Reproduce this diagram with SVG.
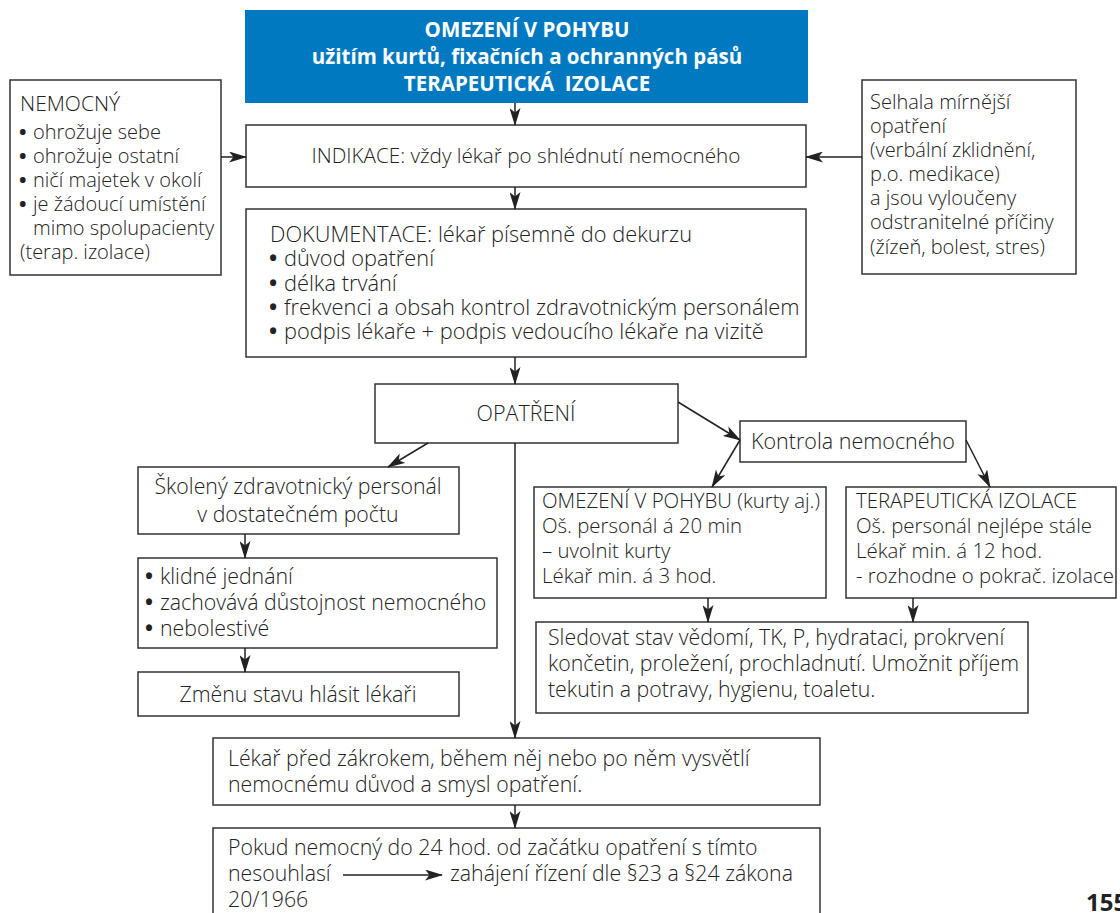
<svg xmlns="http://www.w3.org/2000/svg" width="1120" height="913" viewBox="0 0 1120 913">
  <style>
    text { font-family: "Open Sans", "Noto Sans", "Liberation Sans", sans-serif; font-size: 21.3px; font-weight: 300; fill: #222; }
    .box { fill: #fff; stroke: #333; stroke-width: 1.5; }
    .head { fill: #0079c1; }
    .title { font-weight: bold; font-size: 20.5px; fill: #fff; }
    .mid { text-anchor: middle; }
    .side text { font-size: 20px; }
    .ind text { font-size: 20.7px; }
    .doc text { font-size: 21.8px; }
    .ctl text { font-size: 20.4px; }
    .lg text { font-size: 21.5px; }
    .b { font-weight: bold; }
    .conn line { stroke: #222; stroke-width: 1.5; }
    .page { font-weight: bold; font-size: 24px; }
  </style>
  <defs>
    <marker id="arr" viewBox="0 0 18 11" markerWidth="18" markerHeight="11" refX="17" refY="5.5" orient="auto" markerUnits="userSpaceOnUse">
      <path d="M0,0 L18,5.5 L0,11 L4.5,5.5 z" fill="#222"/>
    </marker>
  </defs>

  <!-- heading -->
  <g id="head">
    <rect class="head" x="245" y="10" width="563" height="93"/>
    <text class="title mid" x="527" y="37">OMEZENÍ V POHYBU</text>
    <text class="title mid" x="527" y="64">užitím kurtů, fixačních a ochranných pásů</text>
    <text class="title mid" x="527" y="91" xml:space="preserve">TERAPEUTICKÁ  IZOLACE</text>
  </g>

  <g id="nemocny" class="side">
    <rect class="box" x="10" y="80" width="211" height="195"/>
    <text x="20" y="111" style="font-size:21px">NEMOCNÝ</text>
    <text class="b" x="19" y="139">•</text><text x="33" y="139">ohrožuje sebe</text>
    <text class="b" x="19" y="163">•</text><text x="33" y="163">ohrožuje ostatní</text>
    <text class="b" x="19" y="187">•</text><text x="33" y="187">ničí majetek v okolí</text>
    <text class="b" x="19" y="211">•</text><text x="33" y="211">je žádoucí umístění</text>
    <text x="33" y="235">mimo spolupacienty</text>
    <text x="20" y="259">(terap. izolace)</text>
  </g>

  <g id="selhala" class="side">
    <rect class="box" x="862" y="80" width="214" height="194"/>
    <text x="870" y="109">Selhala mírnější</text>
    <text x="870" y="133">opatření</text>
    <text x="870" y="157">(verbální zklidnění,</text>
    <text x="870" y="181">p.o. medikace)</text>
    <text x="870" y="205">a jsou vyloučeny</text>
    <text x="870" y="229">odstranitelné příčiny</text>
    <text x="870" y="254">(žízeň, bolest, stres)</text>
  </g>

  <g id="indikace" class="ind">
    <rect class="box" x="246" y="125" width="560" height="62"/>
    <text class="mid" x="526" y="163">INDIKACE: vždy lékař po shlédnutí nemocného</text>
  </g>

  <g id="dokumentace" class="doc">
    <rect class="box" x="246" y="209" width="560" height="148"/>
    <text x="270" y="242">DOKUMENTACE: lékař písemně do dekurzu</text>
    <text class="b" x="269" y="266">•</text><text x="284" y="266">důvod opatření</text>
    <text class="b" x="269" y="291">•</text><text x="284" y="291">délka trvání</text>
    <text class="b" x="269" y="315">•</text><text x="284" y="315">frekvenci a obsah kontrol zdravotnickým personálem</text>
    <text class="b" x="269" y="339">•</text><text x="284" y="339">podpis lékaře + podpis vedoucího lékaře na vizitě</text>
  </g>

  <g id="opatreni" class="lg">
    <rect class="box" x="375" y="384" width="303" height="59"/>
    <text class="mid" x="526" y="421">OPATŘENÍ</text>
  </g>

  <g id="kontrola" class="lg">
    <rect class="box" x="740" y="421" width="226" height="41"/>
    <text x="751" y="449">Kontrola nemocného</text>
  </g>

  <g id="skoleny">
    <rect class="box" x="138" y="467" width="321" height="67"/>
    <text class="mid" x="298" y="494">Školený zdravotnický personál</text>
    <text class="mid" x="298" y="522">v dostatečném počtu</text>
  </g>

  <g id="jednani">
    <rect class="box" x="138" y="558" width="359" height="90"/>
    <text class="b" x="145" y="584">•</text><text x="160" y="584">klidné jednání</text>
    <text class="b" x="145" y="610">•</text><text x="160" y="610">zachovává důstojnost nemocného</text>
    <text class="b" x="145" y="636">•</text><text x="160" y="636">nebolestivé</text>
  </g>

  <g id="zmena">
    <rect class="box" x="138" y="672" width="321" height="44"/>
    <text class="mid" x="298" y="702">Změnu stavu hlásit lékaři</text>
  </g>

  <g id="omezeni" class="ctl">
    <rect class="box" x="534" y="487" width="292" height="111"/>
    <text x="542" y="508">OMEZENÍ V POHYBU (kurty aj.)</text>
    <text x="542" y="533">Oš. personál á 20 min</text>
    <text x="542" y="558">– uvolnit kurty</text>
    <text x="542" y="583">Lékař min. á 3 hod.</text>
  </g>

  <g id="izolace" class="ctl">
    <rect class="box" x="846" y="487" width="270" height="111"/>
    <text x="856" y="508">TERAPEUTICKÁ IZOLACE</text>
    <text x="856" y="533">Oš. personál nejlépe stále</text>
    <text x="856" y="558">Lékař min. á 12 hod.</text>
    <text x="856" y="583">- rozhodne o pokrač. izolace</text>
  </g>

  <g id="sledovat">
    <rect class="box" x="536" y="622" width="492" height="91"/>
    <text x="548" y="645">Sledovat stav vědomí, TK, P, hydrataci, prokrvení</text>
    <text x="548" y="671">končetin, proležení, prochladnutí. Umožnit příjem</text>
    <text x="548" y="697">tekutin a potravy, hygienu, toaletu.</text>
  </g>

  <g id="vysvetleni">
    <rect class="box" x="213" y="738" width="607" height="67"/>
    <text x="228" y="766">Lékař před zákrokem, během něj nebo po něm vysvětlí</text>
    <text x="228" y="792">nemocnému důvod a smysl opatření.</text>
  </g>

  <g id="nesouhlas">
    <rect class="box" x="213" y="828" width="607" height="95"/>
    <text x="228" y="855">Pokud nemocný do 24 hod. od začátku opatření s tímto</text>
    <text x="228" y="881">nesouhlasí</text>
    <text x="450" y="881">zahájení řízení dle §23 a §24 zákona</text>
    <text x="228" y="907">20/1966</text>
  </g>

  <text class="page" x="1086" y="911">155</text>

  <g class="conn">
    <line x1="515" y1="103" x2="515" y2="125" marker-end="url(#arr)"/>
    <line x1="515" y1="187" x2="515" y2="209" marker-end="url(#arr)"/>
    <line x1="515" y1="357" x2="515" y2="384" marker-end="url(#arr)"/>
    <line x1="221" y1="157" x2="246" y2="157" marker-end="url(#arr)"/>
    <line x1="862" y1="157" x2="806" y2="157" marker-end="url(#arr)"/>
    <line x1="678" y1="402" x2="740" y2="440" marker-end="url(#arr)"/>
    <line x1="740" y1="440" x2="712" y2="487" marker-end="url(#arr)"/>
    <line x1="966" y1="440" x2="990" y2="487" marker-end="url(#arr)"/>
    <line x1="428" y1="443" x2="388" y2="467" marker-end="url(#arr)"/>
    <line x1="245" y1="534" x2="245" y2="558" marker-end="url(#arr)"/>
    <line x1="245" y1="648" x2="245" y2="672" marker-end="url(#arr)"/>
    <line x1="708" y1="598" x2="708" y2="622" marker-end="url(#arr)"/>
    <line x1="913" y1="598" x2="913" y2="622" marker-end="url(#arr)"/>
    <line x1="515" y1="443" x2="515" y2="738" marker-end="url(#arr)"/>
    <line x1="515" y1="805" x2="515" y2="828" marker-end="url(#arr)"/>
    <line x1="343" y1="875" x2="442" y2="875" marker-end="url(#arr)"/>
  </g>
</svg>
